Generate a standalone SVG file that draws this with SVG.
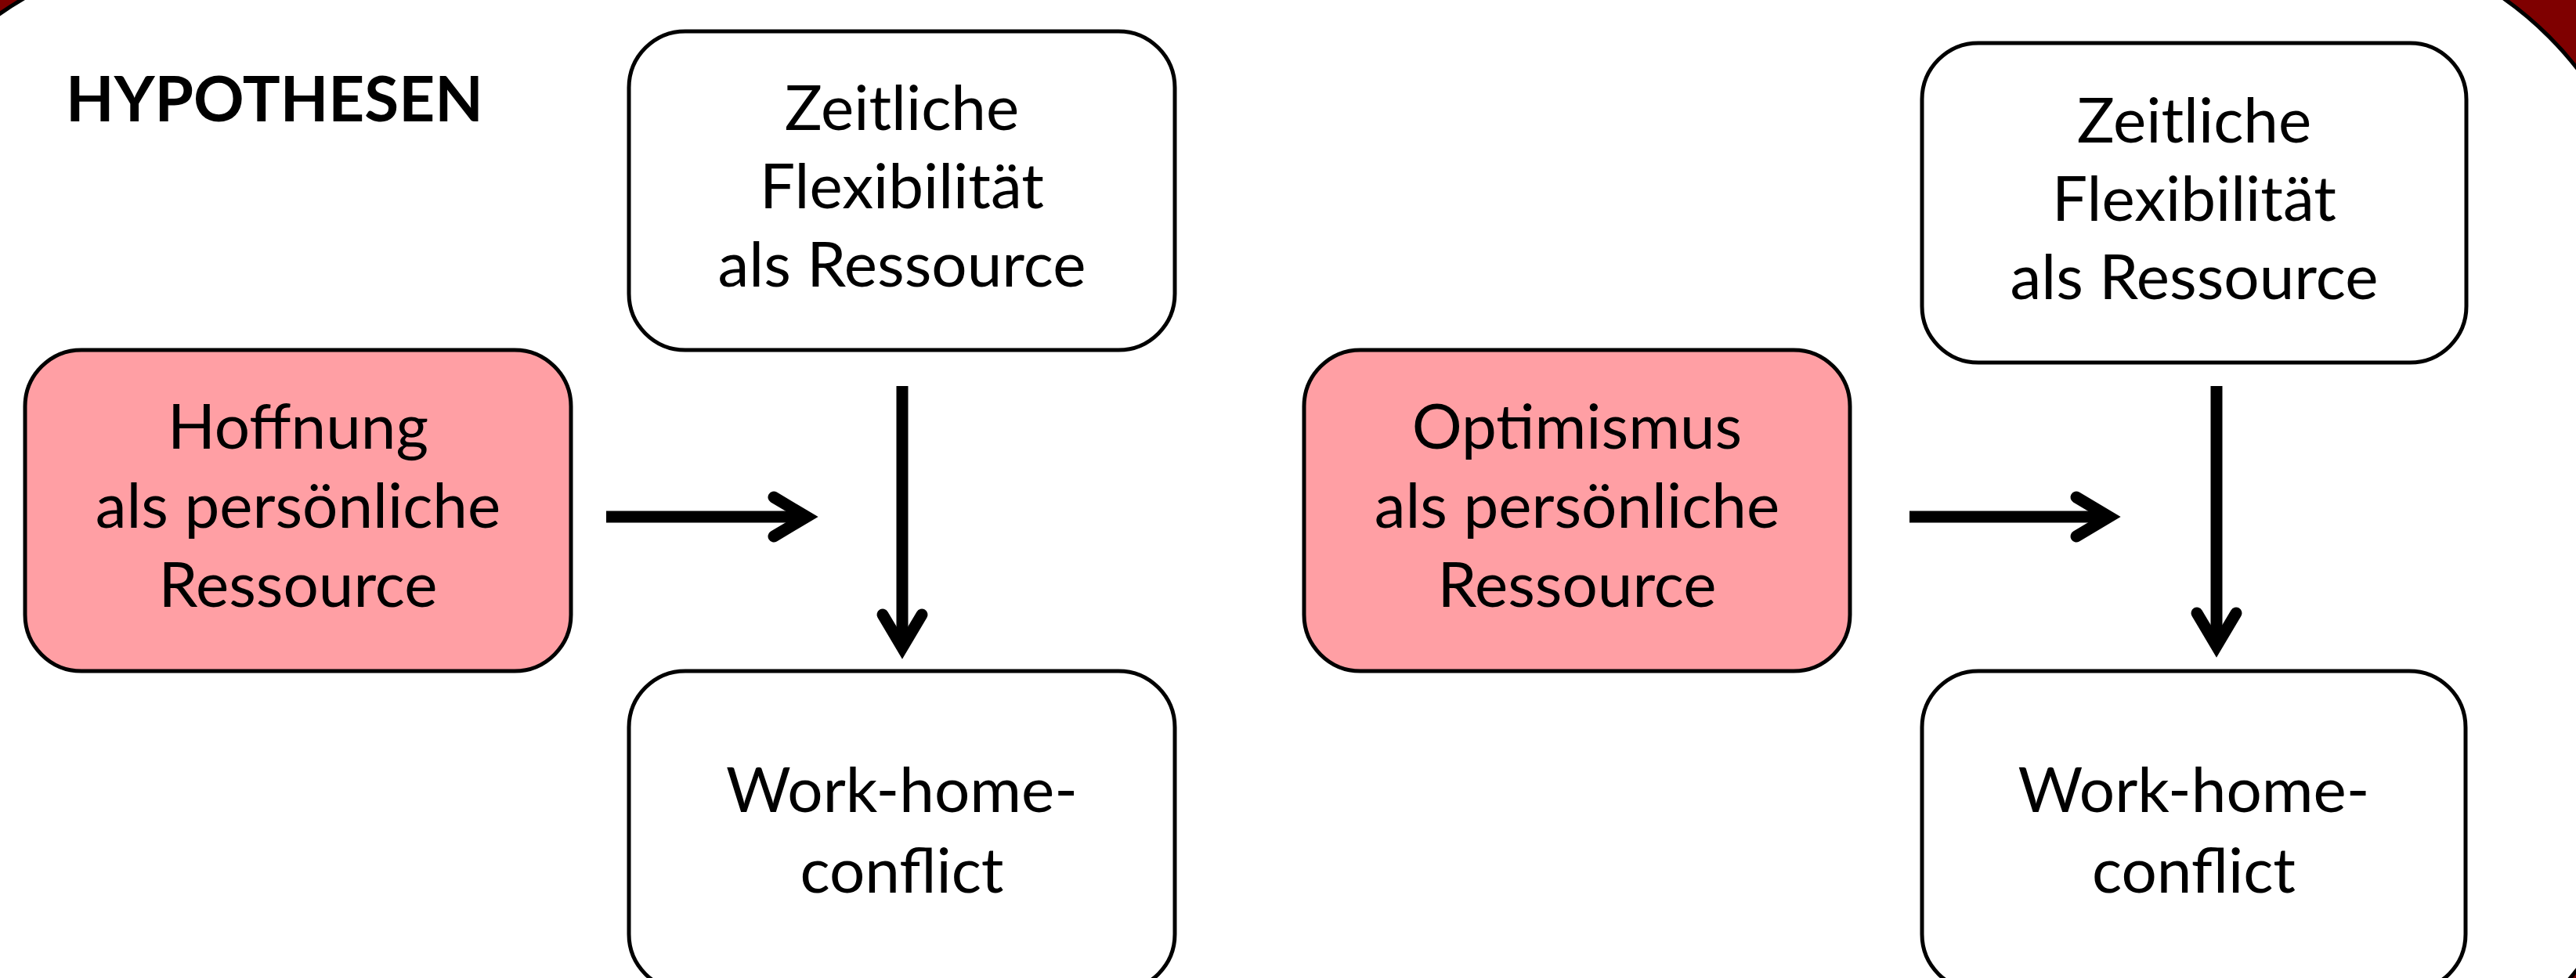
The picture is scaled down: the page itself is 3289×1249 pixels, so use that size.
<svg xmlns="http://www.w3.org/2000/svg" width="3289" height="1249" viewBox="0 0 3289 1249">
  <defs>
    <style>
      .box { fill: #ffffff; stroke: #000000; stroke-width: 5; }
      .res { fill: #ff9fa4; stroke: #000000; stroke-width: 5; }
      .lbl { font-family: Lato, "Noto Sans", sans-serif; font-size: 80px; fill: #000000; text-anchor: middle; }
      .title { font-family: Lato, "Noto Sans", sans-serif; font-size: 80px; font-weight: bold; fill: #000000; }
      .link { fill: none; stroke: #000000; stroke-width: 15; marker-end: url(#chev); }
    </style>
    <marker id="chev" markerUnits="userSpaceOnUse" viewBox="-60 -40 80 80" refX="0" refY="0" markerWidth="80" markerHeight="80" orient="auto" overflow="visible">
      <path d="M-42,-25 L0,0 L-42,25" fill="none" stroke="#000000" stroke-width="15" stroke-linecap="round" stroke-linejoin="miter"/>
    </marker>
  </defs>

  <!-- slide background and rounded white panel -->
  <rect x="0" y="0" width="3289" height="1249" fill="#7f0000"/>
  <path d="M251.5,-61.5 L2943.5,-82 A440,440 0 0 1 3383.5,358 L3383.5,967.5 A440,440 0 0 1 2943.5,1407.5 L251.5,1407.5 A440,440 0 0 1 -188.5,967.5 L-188.5,378.5 A440,440 0 0 1 251.5,-61.5 Z" fill="#ffffff" stroke="#000000" stroke-width="5"/>

  <text class="title" x="84" y="155">HYPOTHESEN</text>

  <!-- left model: hope -->
  <g id="flex-left">
    <rect class="box" x="803" y="40" width="697" height="407" rx="72"/>
    <text class="lbl" x="1151.5" y="166">Zeitliche</text>
    <text class="lbl" x="1151.5" y="266">Flexibilität</text>
    <text class="lbl" x="1151.5" y="366">als Ressource</text>
  </g>
  <g id="hope">
    <rect class="res" x="32" y="447" width="697" height="410" rx="72"/>
    <text class="lbl" x="380.5" y="573">Hoffnung</text>
    <text class="lbl" x="380.5" y="674">als persönliche</text>
    <text class="lbl" x="380.5" y="775">Ressource</text>
  </g>
  <g id="whc-left">
    <rect class="box" x="803" y="857" width="697" height="408" rx="72"/>
    <text class="lbl" x="1151.5" y="1037">Work-home-</text>
    <text class="lbl" x="1151.5" y="1140">conflict</text>
  </g>

  <!-- right model: optimism -->
  <g id="flex-right">
    <rect class="box" x="2454" y="55" width="695" height="408" rx="72"/>
    <text class="lbl" x="2801.5" y="182">Zeitliche</text>
    <text class="lbl" x="2801.5" y="282">Flexibilität</text>
    <text class="lbl" x="2801.5" y="382">als Ressource</text>
  </g>
  <g id="optimism">
    <rect class="res" x="1665" y="447" width="697" height="410" rx="72"/>
    <text class="lbl" x="2013.5" y="573">Optimismus</text>
    <text class="lbl" x="2013.5" y="674">als persönliche</text>
    <text class="lbl" x="2013.5" y="775">Ressource</text>
  </g>
  <g id="whc-right">
    <rect class="box" x="2454" y="857" width="694" height="408" rx="72"/>
    <text class="lbl" x="2801" y="1037">Work-home-</text>
    <text class="lbl" x="2801" y="1140">conflict</text>
  </g>

  <!-- connectors -->
  <g id="connectors">
    <path class="link" d="M774,660 L1030,660"/>
    <path class="link" d="M1152,493 L1152,827"/>
    <path class="link" d="M2438,660 L2693,660"/>
    <path class="link" d="M2830,493 L2830,825"/>
  </g>
</svg>
